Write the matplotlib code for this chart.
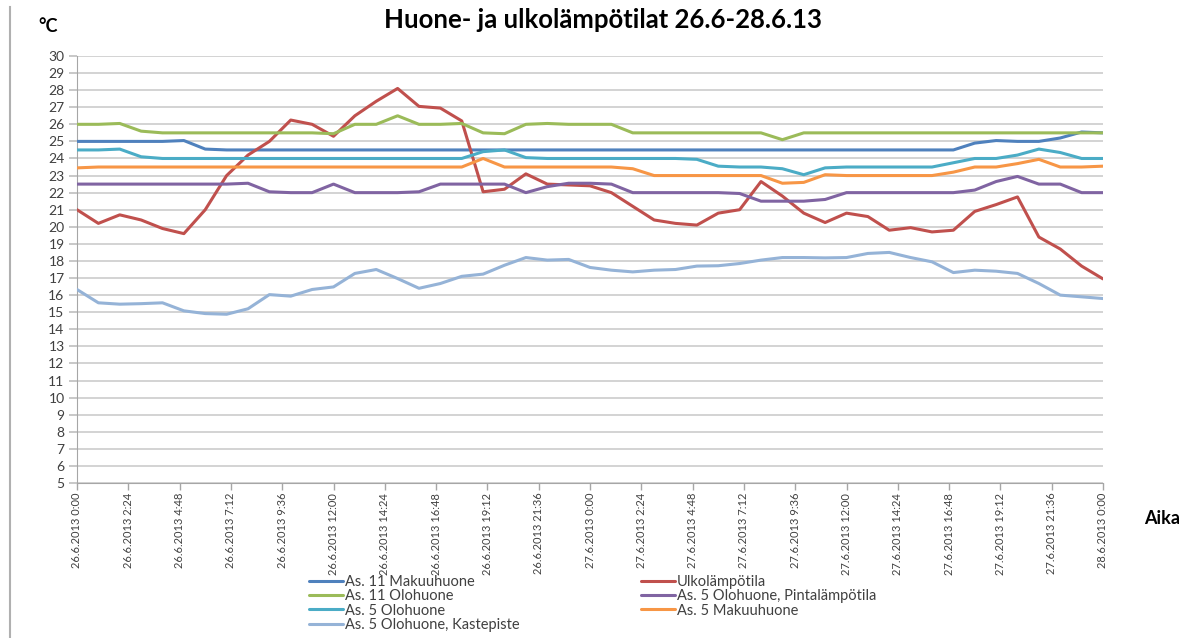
import matplotlib
matplotlib.use("Agg")
from matplotlib import pyplot as plt
from matplotlib.lines import Line2D

plt.rcParams['font.family'] = ['Lato', 'DejaVu Sans']

# Hours from 26.6.2013 0:00, one reading per hour
hours = list(range(49))

# Tick positions (hours) and labels of the time axis
tick_hours = [i * 2.4 for i in range(21)]
tick_labels = ['26.6.2013 0:00', '26.6.2013 2:24', '26.6.2013 4:48', '26.6.2013 7:12',
               '26.6.2013 9:36', '26.6.2013 12:00', '26.6.2013 14:24', '26.6.2013 16:48',
               '26.6.2013 19:12', '26.6.2013 21:36', '27.6.2013 0:00', '27.6.2013 2:24',
               '27.6.2013 4:48', '27.6.2013 7:12', '27.6.2013 9:36', '27.6.2013 12:00',
               '27.6.2013 14:24', '27.6.2013 16:48', '27.6.2013 19:12', '27.6.2013 21:36',
               '28.6.2013 0:00']

# Temperatures (°C)
as11_makuuhuone = [25.0, 25.0, 25.0, 25.0, 25.0, 25.05, 24.55] + [24.5] * 35 + \
                  [24.9, 25.05, 25.0, 25.0, 25.2, 25.55, 25.5]

as11_olohuone = [26.0, 26.0, 26.05, 25.6, 25.5] + [25.5] * 7 + \
                [25.45, 26.0, 26.0, 26.5, 26.0, 26.0, 26.05, 25.5, 25.45, 26.0, 26.05, 26.0, 26.0, 26.0] + \
                [25.5] * 7 + [25.1, 25.5] + [25.5] * 14

as5_olohuone = [24.5, 24.5, 24.55, 24.1] + [24.0] * 15 + [24.4, 24.5, 24.05] + [24.0] * 7 + \
               [23.95, 23.55, 23.5, 23.5, 23.4, 23.05, 23.45] + [23.5] * 5 + \
               [23.75, 24.0, 24.0, 24.2, 24.55, 24.35, 24.0, 24.0]

as5_kastepiste = [16.33, 15.55, 15.47, 15.5, 15.55, 15.08, 14.92, 14.88, 15.2, 16.03,
                  15.94, 16.33, 16.48, 17.27, 17.5, 16.97, 16.4, 16.68, 17.1, 17.23,
                  17.75, 18.2, 18.05, 18.09, 17.62, 17.46, 17.36, 17.46, 17.5, 17.7,
                  17.72, 17.85, 18.05, 18.2, 18.2, 18.18, 18.2, 18.44, 18.5, 18.2,
                  17.95, 17.32, 17.46, 17.4, 17.27, 16.68, 16.0, 15.9, 15.8]

ulkolampotila = [21.0, 20.2, 20.7, 20.4, 19.9, 19.6, 21.0, 23.0, 24.2, 25.0,
                 26.25, 26.0, 25.3, 26.5, 27.35, 28.1, 27.05, 26.95, 26.2, 22.05,
                 22.2, 23.1, 22.5, 22.45, 22.4, 22.0, 21.2, 20.4, 20.2, 20.1,
                 20.8, 21.0, 22.65, 21.8, 20.8, 20.25, 20.8, 20.6, 19.8, 19.95,
                 19.7, 19.8, 20.9, 21.3, 21.75, 19.4, 18.7, 17.7, 16.95]

as5_pintalampotila = [22.5] * 8 + [22.55, 22.05, 22.0, 22.0, 22.5, 22.0, 22.0, 22.0, 22.05,
                                   22.5, 22.5, 22.5, 22.5] + \
                     [22.0, 22.35, 22.55, 22.55, 22.5, 22.0] + [22.0] * 4 + \
                     [21.95, 21.5, 21.5, 21.5, 21.6, 22.0] + [22.0] * 5 + \
                     [22.15, 22.65, 22.95, 22.5, 22.5, 22.0, 22.0]

as5_makuuhuone = [23.45] + [23.5] * 18 + [24.0, 23.5] + [23.5] * 5 + [23.4] + [23.0] * 6 + \
                 [22.55, 22.6, 23.05] + [23.0] * 5 + \
                 [23.2, 23.5, 23.5, 23.7, 23.95, 23.5, 23.5, 23.55]

series_left = [('As. 11 Makuuhuone', as11_makuuhuone, '#4F81BD'),
               ('As. 11 Olohuone', as11_olohuone, '#9BBB59'),
               ('As. 5 Olohuone', as5_olohuone, '#4BACC6'),
               ('As. 5 Olohuone, Kastepiste', as5_kastepiste, '#95B3D7')]
series_right = [('Ulkolämpötila', ulkolampotila, '#C0504D'),
                ('As. 5 Olohuone, Pintalämpötila', as5_pintalampotila, '#8064A2'),
                ('As. 5 Makuuhuone', as5_makuuhuone, '#F79646')]

W, H = 1184, 638
fig = plt.figure(figsize=(W / 100, H / 100), dpi=100)
ax = fig.add_axes([77 / W, 1 - 483 / H, (1103 - 77) / W, (483 - 56) / H])

# Draw lines (in the order Excel drew them)
draw_order = [series_left[0], series_right[0], series_left[1], series_right[1],
              series_left[2], series_right[2], series_left[3]]
handles = {}
for name, vals, col in draw_order:
    line, = ax.plot(hours, vals, color=col, lw=2.2, solid_joinstyle='round',
                    solid_capstyle='round', zorder=3)
    handles[name] = line

ax.set_xlim(0, 48)
ax.set_ylim(5, 30)
ax.set_yticks(range(5, 31))
ax.set_xticks(tick_hours)
ax.set_xticklabels(tick_labels, rotation=90, fontsize=8, color='#404040')
ax.tick_params(axis='y', labelsize=10, colors='#404040', length=6, width=1.2, pad=3,
               color='#BFBFBF')
ax.tick_params(axis='x', length=5, width=1, color='#A6A6A6', pad=2)

ax.grid(axis='y', color='#D0D0D0', lw=1.3)
ax.set_axisbelow(True)
for s in ['top', 'right']:
    ax.spines[s].set_visible(False)
ax.spines['left'].set_color('#A6A6A6')
ax.spines['bottom'].set_color('#A6A6A6')

# Texts
fig.text(603 / W, 1 - 20 / H, 'Huone- ja ulkolämpötilat 26.6-28.6.13', ha='center', va='center',
         fontsize=18.5, fontweight='bold')
fig.text(48 / W, 1 - 27 / H, '°C', ha='center', va='center', fontsize=13, fontweight='bold')
fig.text(1162 / W, 1 - 518 / H, 'Aika', ha='center', va='center', fontsize=13, fontweight='bold')

# Chart border on the left
fig.add_artist(Line2D([10 / W, 10 / W], [0, 1 - 7 / H], color='#B0B0B0', lw=1.5))

# Legends, two columns
legend_kw = dict(loc='upper left', frameon=False, fontsize=10.5, handlelength=2.3,
                 handletextpad=0.15, labelspacing=0.02, borderpad=0, borderaxespad=0)
leg1 = fig.legend([handles[n] for n, _, _ in series_left], [n for n, _, _ in series_left],
                  bbox_to_anchor=(309 / W, 1 - 575 / H), **legend_kw)
leg2 = fig.legend([handles[n] for n, _, _ in series_right], [n for n, _, _ in series_right],
                  bbox_to_anchor=(641 / W, 1 - 575 / H), **legend_kw)
for leg in (leg1, leg2):
    for t in leg.get_texts():
        t.set_color('#404040')

fig.savefig('out.png', dpi=100)
